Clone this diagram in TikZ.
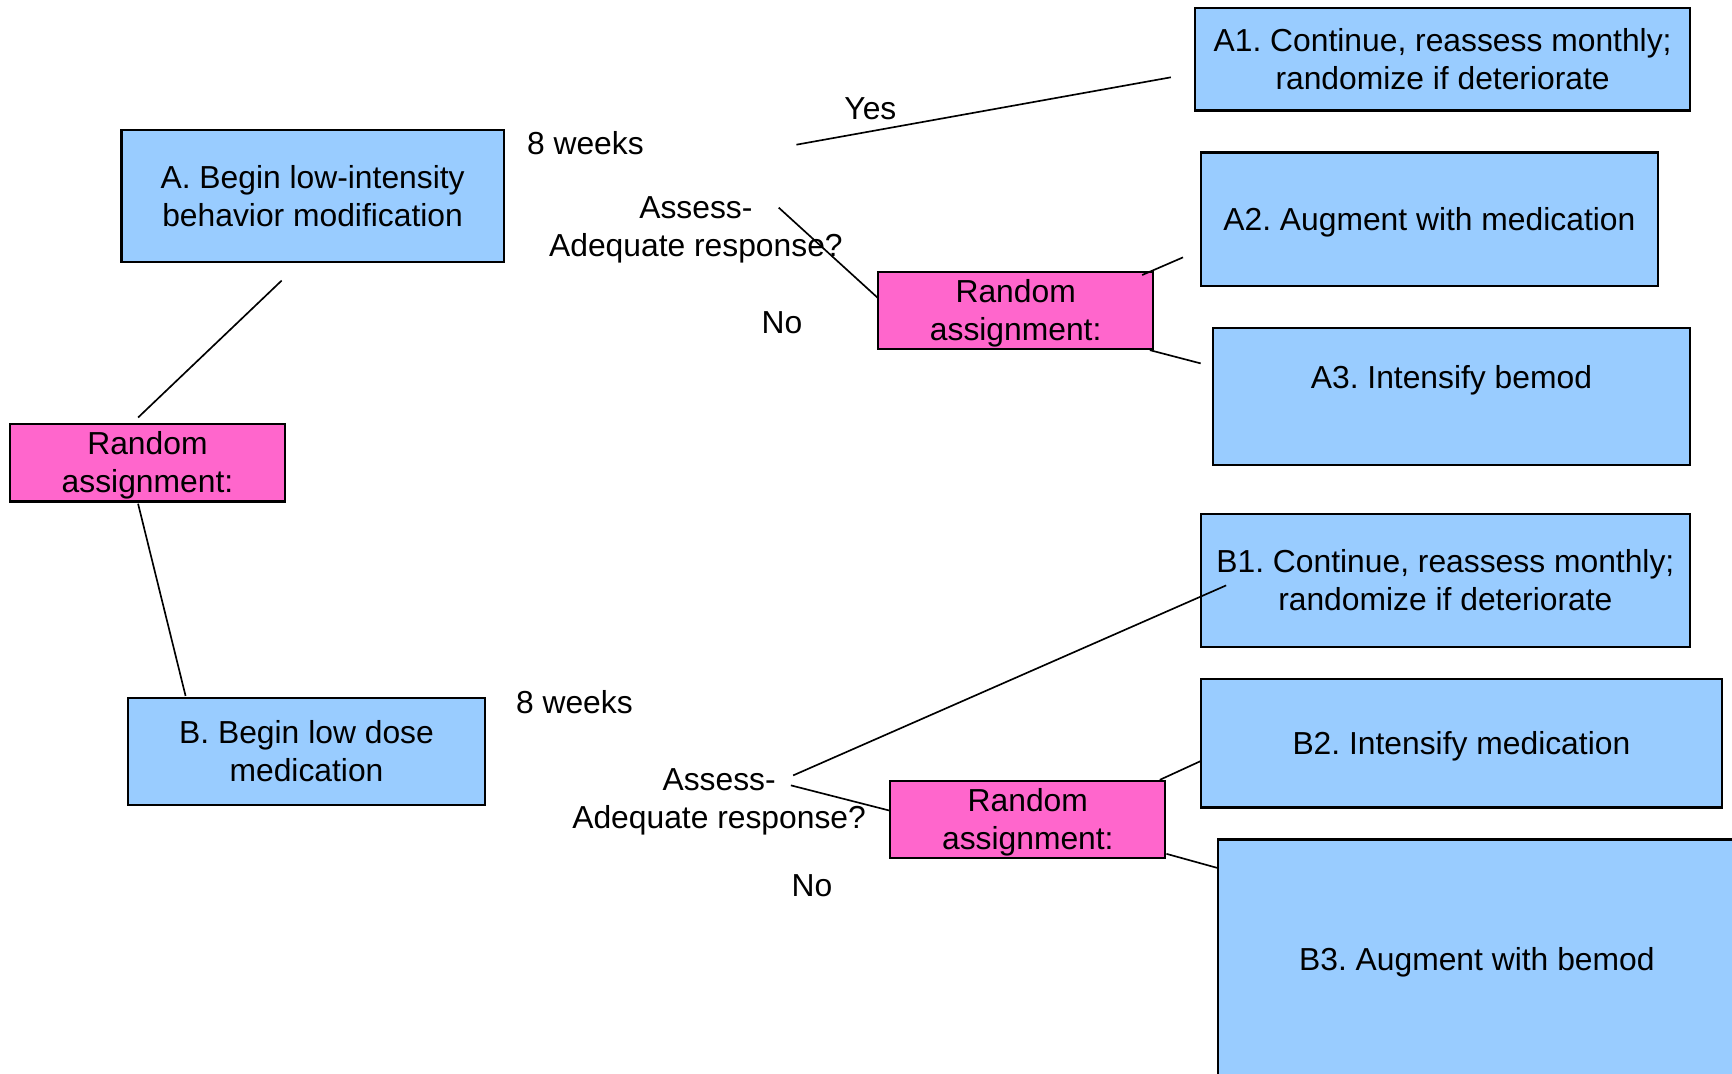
\documentclass[tikz,border=0pt]{standalone}
\usepackage{fontspec}
\setmainfont{Liberation Sans}
\definecolor{boxblue}{HTML}{99CCFF}
\definecolor{boxpink}{HTML}{FF66CC}
\newcommand\lstrut{\rule[-3.05pt]{0pt}{16.08pt}}
\frenchspacing
\begin{document}
\begin{tikzpicture}[x=0.5pt,y=-0.5pt,
  every node/.style={font=\fontsize{14.4}{17.25}\selectfont, align=center, inner sep=0pt},
  bluebox/.style={draw=black, line width=1pt, fill=boxblue},
  pinkbox/.style={draw=black, line width=1pt, fill=boxpink, minimum width=124.5pt, minimum height=35pt},
  conn/.style={line width=0.75pt}]
\clip (0,0) rectangle (1568,972);
\fill[white] (0,0) rectangle (1568,972);

% left part
\node[bluebox, minimum width=173pt, minimum height=59.5pt] (A) at (283,177.5) {\lstrut A. Begin low-intensity\\\lstrut behavior modification};
\node[pinkbox] (R1) at (133.5,419) {\lstrut Random\\\lstrut assignment:};
\node[bluebox, minimum width=161.5pt, minimum height=48.5pt] (B) at (277.5,680.5) {\lstrut B. Begin low dose\\\lstrut medication};

% top branch
\node (w1) at (530,130) {\lstrut 8 weeks};
\node (as1) at (630,205) {\lstrut Assess-\\\lstrut Adequate response?};
\node (yes1) at (788,98) {\lstrut Yes};
\node (no1) at (708,292) {\lstrut No};
\node[pinkbox] (R2) at (919.5,281) {\lstrut Random\\\lstrut assignment:};
\node[bluebox, minimum width=224pt, minimum height=46.5pt] (A1) at (1306,53.5) {\lstrut A1. Continue, reassess monthly;\\\lstrut randomize if deteriorate};
\node[bluebox, minimum width=207pt, minimum height=60.5pt] (A2) at (1294,198.5) {\lstrut A2. Augment with medication};
\node[bluebox, minimum width=216pt, minimum height=62pt] (A3) at (1314,359) {};
\node (A3t) at (1314,342) {\lstrut A3. Intensify bemod};

% bottom branch
\node (w2) at (520,636) {\lstrut 8 weeks};
\node (as2) at (651,723) {\lstrut Assess-\\\lstrut Adequate response?};
\node (no2) at (735,802) {\lstrut No};
\node[pinkbox] (R3) at (930.5,742) {\lstrut Random\\\lstrut assignment:};
\node[bluebox, minimum width=221.5pt, minimum height=60.5pt] (B1) at (1308.5,525.5) {\lstrut B1. Continue, reassess monthly;\\\lstrut randomize if deteriorate};
\node[bluebox, minimum width=236pt, minimum height=58pt] (B2) at (1323,673) {\lstrut B2. Intensify medication};
\node[bluebox, minimum width=258.5pt, minimum height=125pt] (B3) at (1361.5,885) {};
\node (B3t) at (1337,869) {\lstrut B3. Augment with bemod};

% connector end points
\coordinate (c1a) at (255,254);  \coordinate (c1b) at (125,378);
\coordinate (c2a) at (125,456);  \coordinate (c2b) at (168,630);
\coordinate (c3a) at (721,131);  \coordinate (c3b) at (1060,70);
\coordinate (c4a) at (705,188);  \coordinate (c4b) at (795,270);
\coordinate (c5a) at (1034,249); \coordinate (c5b) at (1071,233);
\coordinate (c6a) at (1041,317); \coordinate (c6b) at (1087,329);
\coordinate (c7a) at (718,702);  \coordinate (c7b) at (1110,530);
\coordinate (c8a) at (716,711);  \coordinate (c8b) at (806,734);
\coordinate (c9a) at (1050,706); \coordinate (c9b) at (1087,689);
\coordinate (c10a) at (1056,773); \coordinate (c10b) at (1103,786);

\draw[conn] (c1a) -- (c1b);
\draw[conn] (c2a) -- (c2b);
\draw[conn] (c3a) -- (c3b);
\draw[conn] (c4a) -- (c4b);
\draw[conn] (c5a) -- (c5b);
\draw[conn] (c6a) -- (c6b);
\draw[conn] (c7a) -- (c7b);
\draw[conn] (c8a) -- (c8b);
\draw[conn] (c9a) -- (c9b);
\draw[conn] (c10a) -- (c10b);
\end{tikzpicture}
\end{document}
